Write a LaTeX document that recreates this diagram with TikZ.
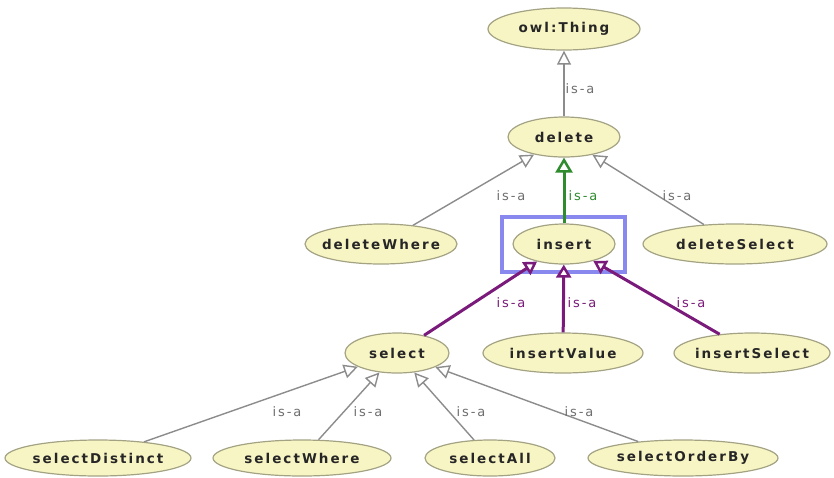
\documentclass[tikz,border=0pt]{standalone}
\usepackage{fontspec}
\setmainfont{DejaVu Sans}
\newfontfamily\nodefont[LetterSpace=15,BoldFont={DejaVu Sans Bold}]{DejaVu Sans}
\newfontfamily\isafont[LetterSpace=15]{DejaVu Sans}
\usetikzlibrary{shapes.geometric,arrows.meta}
\definecolor{efill}{HTML}{F8F5C4}
\definecolor{eborder}{HTML}{A3A384}
\definecolor{lgray}{HTML}{8C8C8C}
\definecolor{tgray}{HTML}{6E6E6E}
\definecolor{dgreen}{HTML}{2E8B2E}
\definecolor{dpurple}{HTML}{7A1A7A}
\definecolor{bbox}{HTML}{8888EE}
\newcommand\ntxt[1]{\makebox[0pt]{#1}}
\tikzset{
  cls/.style={ellipse, draw=eborder, fill=efill, line width=1.2pt, inner sep=0pt,
    font=\nodefont\bfseries\fontsize{13.5}{15}\selectfont, text=black!85},
  isa/.style={draw=lgray, line width=1.4pt,
    -{Triangle[length=14pt,width=14pt,fill=white]}},
  isagreen/.style={draw=dgreen, line width=3pt,
    -{Triangle[length=15pt,width=17pt,fill=white,line width=2.5pt]}},
  isapurple/.style={draw=dpurple, line width=3pt,
    -{Triangle[length=13pt,width=15pt,fill=white,line width=2.5pt]}},
  lab/.style={font=\isafont\fontsize{13}{15}\selectfont, text=tgray, inner sep=0pt},
}
\begin{document}
\begin{tikzpicture}[x=1pt,y=-1pt]
\useasboundingbox (0,0) rectangle (834,477);
% highlight box
\draw[bbox, line width=3.5pt] (502,217) rectangle (625,272);
% nodes
\node[cls, minimum width=152pt, minimum height=42pt] (thing) at (564,29) {\ntxt{owl:Thing}};
\node[cls, minimum width=112pt, minimum height=40pt] (delete) at (564,137) {\ntxt{delete}};
\node[cls, minimum width=152pt, minimum height=40pt] (dw) at (381,244) {\ntxt{deleteWhere}};
\node[cls, minimum width=102pt, minimum height=40pt] (ins) at (564,244) {\ntxt{insert}};
\node[cls, minimum width=184pt, minimum height=40pt] (ds) at (735,244) {\ntxt{deleteSelect}};
\node[cls, minimum width=104pt, minimum height=40pt] (sel) at (397,353) {\ntxt{select}};
\node[cls, minimum width=160pt, minimum height=40pt] (iv) at (563,353) {\ntxt{insertValue}};
\node[cls, minimum width=156pt, minimum height=40pt] (is) at (752,353) {\ntxt{insertSelect}};
\node[cls, minimum width=186pt, minimum height=36pt] (sd) at (98,458) {\ntxt{selectDistinct}};
\node[cls, minimum width=178pt, minimum height=36pt] (sw) at (302,458) {\ntxt{selectWhere}};
\node[cls, minimum width=130pt, minimum height=36pt] (sa) at (490,458) {\ntxt{selectAll}};
\node[cls, minimum width=190pt, minimum height=36pt] (so) at (683,458) {\ntxt{selectOrderBy}};
% edges
\draw[isa] (delete) -- (thing);
\draw[isa] (dw) -- (delete);
\draw[isagreen] (ins) -- (delete);
\draw[isa] (ds) -- (delete);
\draw[isapurple] (sel) -- (ins);
\draw[isapurple] (iv) -- (ins);
\draw[isapurple] (is) -- (ins);
\draw[isa] (sd) -- (sel);
\draw[isa] (sw) -- (sel);
\draw[isa] (sa) -- (sel);
\draw[isa] (so) -- (sel);
% labels
\node[lab] (l1) at (580,89) {is-a};
\node[lab] (l2) at (511,196) {is-a};
\node[lab, text=dgreen] (l3) at (583,196) {is-a};
\node[lab] (l4) at (677,196) {is-a};
\node[lab, text=dpurple] (l5) at (511,303) {is-a};
\node[lab, text=dpurple] (l6) at (582,303) {is-a};
\node[lab, text=dpurple] (l7) at (691,303) {is-a};
\node[lab] (l8) at (287,412) {is-a};
\node[lab] (l9) at (368,412) {is-a};
\node[lab] (l10) at (471,412) {is-a};
\node[lab] (l11) at (579,412) {is-a};
\end{tikzpicture}
\end{document}
